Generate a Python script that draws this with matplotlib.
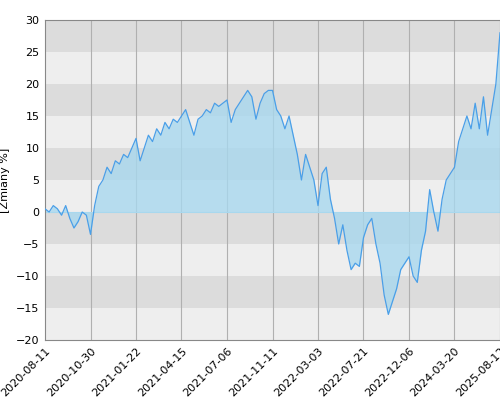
import matplotlib
matplotlib.use("Agg")
import matplotlib.pyplot as plt
import numpy as np

tick_labels = ["2020-08-11","2020-10-30","2021-01-22","2021-04-15","2021-07-06",
               "2021-11-11","2022-03-03","2022-07-21","2022-12-06","2024-03-20","2025-08-12"]
values = [0.5, 0, 1, 0.5, -0.5, 1, -1, -2.5, -1.5, 0, -0.5,
          -3.5, 1, 4, 5, 7, 6, 8, 7.5, 9, 8.5, 10,
          11.5, 8, 10, 12, 11, 13, 12, 14, 13, 14.5, 14,
          15, 16, 14, 12, 14.5, 15, 16, 15.5, 17, 16.5, 17,
          17.5, 14, 16, 17, 18, 19, 18, 14.5, 17, 18.5, 19,
          19, 16, 15, 13, 15, 12, 9, 5, 9, 7, 5,
          1, 6, 7, 2, -1, -5, -2, -6, -9, -8, -8.5,
          -4, -2, -1, -5, -8, -13, -16, -14, -12, -9, -8,
          -7, -10, -11, -6, -3, 3.5, 0, -3, 2, 5, 6,
          7, 11, 13, 15, 13, 17, 13, 18, 12, 16, 20, 28]
y_ticks = list(range(-20, 31, 5))

fig = plt.figure(figsize=(5, 4), dpi=100)
ax = fig.add_axes([0.09, 0.15, 0.91, 0.80])
x = np.arange(len(values))
n = len(values) - 1
for i, lo in enumerate(range(-20, 30, 5)):
    ax.axhspan(lo, lo + 5, color="#eeeeee" if i % 2 == 0 else "#dcdcdc", lw=0, zorder=0)
tick_pos = np.linspace(0, n, len(tick_labels))
for p in tick_pos[1:-1]:
    ax.axvline(p, color="#b0b0b0", lw=0.8, zorder=1)
ax.fill_between(x, values, 0, color="#a8d8ee", alpha=0.8, lw=0, zorder=2)
ax.plot(x, values, color="#4a9fe8", lw=0.9, zorder=3)
ax.axhline(0, color="#a8d8ee", lw=0.8, zorder=2)
ax.set_xlim(0, n)
ax.set_ylim(-20, 30)
ax.set_yticks(y_ticks)
ax.set_xticks(tick_pos)
ax.set_xticklabels(tick_labels, rotation=45, ha="right", rotation_mode="anchor")
ax.tick_params(labelsize=8, length=0, pad=4)
ax.set_ylabel("[Zmiany %]", fontsize=8)
for s in ax.spines.values():
    s.set_color("#888888")
    s.set_linewidth(0.8)
fig.savefig("out.png", dpi=100)
